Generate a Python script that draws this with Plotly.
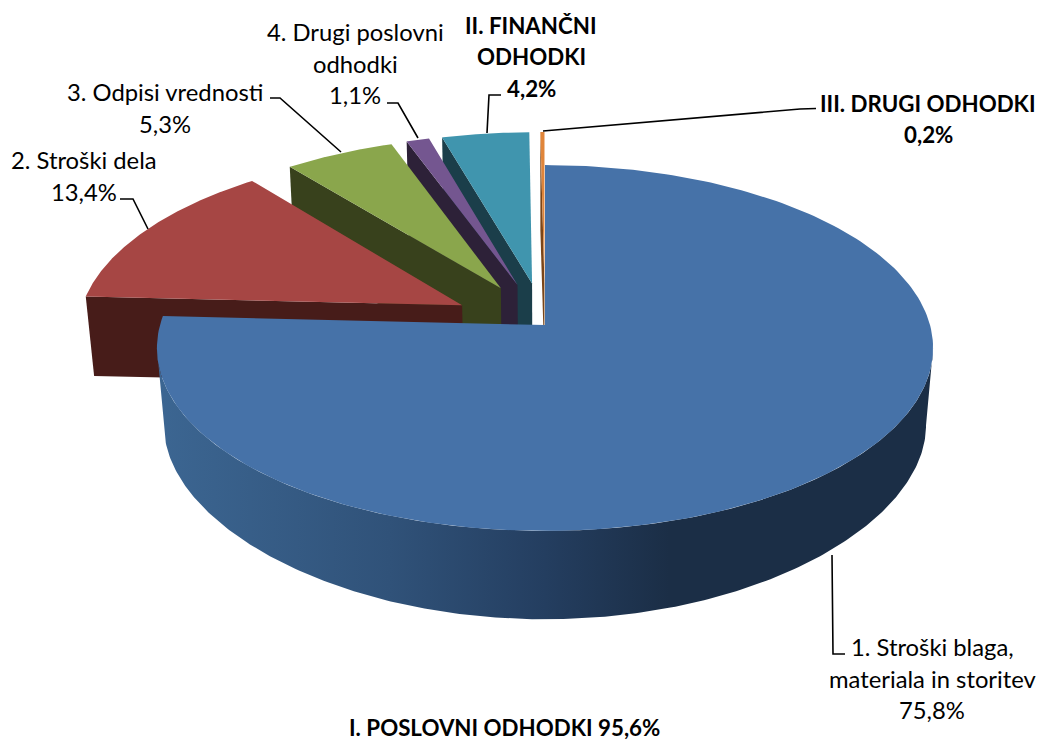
import numpy as np
import plotly.graph_objects as go

# ---- data ----
categories = ["1. Stroški blaga, materiala in storitev", "2. Stroški dela", "3. Odpisi vrednosti",
              "4. Drugi poslovni odhodki", "II. FINANČNI ODHODKI", "III. DRUGI ODHODKI"]
values = [75.8, 13.4, 5.3, 1.1, 4.2, 0.2]
pull = [0.0, 0.245, 0.24, 0.24, 0.24, 0.24]
top_colors = ["#4672A8", "#A64644", "#8AA64C", "#745690", "#4095AE", "#E0853A"]
wall_colors = ["#1B2E46", "#471C19", "#38411C", "#2D2138", "#1B3E4A", "#7A4518"]
group_total = "I. POSLOVNI ODHODKI 95,6%"

# ---- perspective of the pie (screen geometry) ----
CX, CY, R, RY, K = 545, 325, 385, 180, 0.1257
BR, BCY, BA, BK = 378, 403, 173, 0.20


def top(u, v):
    w = 1 + K * v
    return CX + R * u / w, CY - RY * v / w


def bottom(u, v):
    return CX + BR * u / (1 + K * v), BCY - BA * v / (1 + BK * v)


fig = go.Figure()
angles = np.cumsum([0] + values) * 3.6
order = [4, 3, 2, 1, 5, 0]

for i in order:
    a0, a1 = angles[i], angles[i + 1]
    mid = np.radians((a0 + a1) / 2)
    ox, oy = pull[i] * np.sin(mid), pull[i] * np.cos(mid)
    th = np.radians(np.linspace(a0, a1, 240))
    us, vs = ox + np.sin(th), oy + np.cos(th)
    if i == 0:
        # outer wall between the two silhouette points of the drum
        side = np.degrees(np.arccos(-K))
        wt = np.radians(np.linspace(side, 360 - side, 240))
        wu, wv = np.sin(wt), np.cos(wt)
        tx, ty = top(wu, wv)
        bx, by = bottom(wu, wv)
        fig.add_trace(go.Scatter(
            x=np.r_[tx, bx[::-1], tx[0]], y=np.r_[ty, by[::-1], ty[0]],
            mode="lines", line=dict(width=0), fill="toself", hoverinfo="skip", showlegend=False,
            fillgradient=dict(type="horizontal",
                              colorscale=[[0, "#3C6692"], [0.3, "#305279"], [0.5, "#243E60"],
                                          [0.66, "#1B2E46"], [1, "#1B2E46"]])))
    else:
        # cut face under the leading edge
        cu, cv = np.array([us[0], ox]), np.array([vs[0], oy])
        tx, ty = top(cu, cv)
        bx, by = bottom(cu, cv)
        fig.add_trace(go.Scatter(
            x=np.r_[tx, bx[::-1], tx[0]], y=np.r_[ty, by[::-1], ty[0]],
            mode="lines", line=dict(width=0), fill="toself", fillcolor=wall_colors[i],
            hoverinfo="skip", showlegend=False))
    px, py = top(np.r_[ox, us, ox], np.r_[oy, vs, oy])
    fig.add_trace(go.Scatter(
        x=px, y=py, mode="lines", line=dict(width=0), fill="toself", fillcolor=top_colors[i],
        name=categories[i], text=f"{values[i]}%".replace(".", ","), hoverinfo="name+text", showlegend=False))

# ---- labels ----
label_lines = [
    (["1. Stroški blaga,", "materiala in storitev", "75,8%"], 932, 647, False),
    (["2. Stroški dela", "13,4%"], 84, 160, False),
    (["3. Odpisi vrednosti", "5,3%"], 165, 92, False),
    (["4. Drugi poslovni", "odhodki", "1,1%"], 355, 32, False),
    (["II. FINANČNI", "ODHODKI", "4,2%"], 531, 25, True),
    (["III. DRUGI ODHODKI", "0,2%"], 928, 103, True),
    ([group_total], 504, 727.5, True),
]
annotations = []
for lines, x, y, bold in label_lines:
    for n, line in enumerate(lines):
        annotations.append(dict(
            x=x, y=y + n * 31.5, xref="x", yref="y", text=f"<b>{line}</b>" if bold else line,
            showarrow=False, xanchor="center", yanchor="middle",
            font=dict(family="Lato", size=22.3 if bold else 23.8, color="#000000")))

leaders = [
    [(832, 555), (833, 654), (845, 654)],
    [(120, 199), (133, 199), (148, 229)],
    [(270, 98), (280, 98), (341, 152)],
    [(387, 103), (398, 103), (418, 138)],
    [(501, 95), (489, 95), (487, 133)],
    [(543, 131), (800, 109), (816, 108.5)],
]
shapes = []
for pts in leaders:
    path = "M " + " L ".join(f"{a},{b}" for a, b in pts)
    shapes.append(dict(type="path", path=path, xref="x", yref="y",
                       line=dict(color="#000000", width=1.6)))

fig.update_layout(
    width=1037, height=740, margin=dict(l=0, r=0, t=0, b=0),
    paper_bgcolor="#FFFFFF", plot_bgcolor="#FFFFFF", showlegend=False,
    xaxis=dict(range=[0, 1037], visible=False, fixedrange=True),
    yaxis=dict(range=[740, 0], visible=False, fixedrange=True),
    annotations=annotations, shapes=shapes,
)

fig.write_html("out.html", post_script="document.body.style.margin='0';document.body.style.overflow='hidden';",
               config={"displayModeBar": False})
